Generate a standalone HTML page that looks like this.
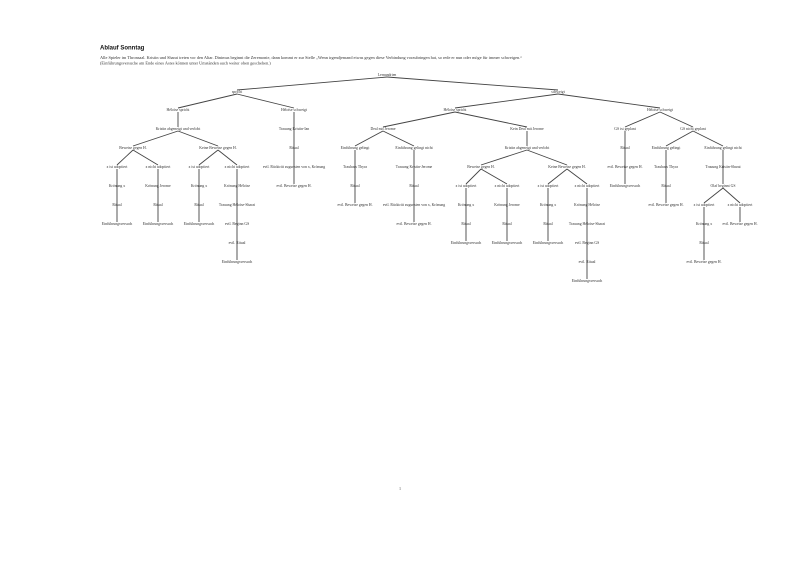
<!DOCTYPE html>
<html><head><meta charset="utf-8"><style>
html,body{margin:0;padding:0;background:#fff;}
svg{display:block;}
text{font-family:"Liberation Serif",serif;font-size:3.8px;fill:#333;text-anchor:middle;dominant-baseline:middle;}
line{stroke:#444;stroke-width:0.9;}
</style></head><body>
<svg width="800" height="565" viewBox="0 0 800 565" xmlns="http://www.w3.org/2000/svg">
<text x="100" y="48" style="font-family:'Liberation Sans',sans-serif;font-weight:bold;font-size:6px;text-anchor:start;fill:#111">Ablauf Sonntag</text>
<text x="100" y="58" style="text-anchor:start;font-size:4.3px">Alle Spieler im Thronsaal. Kristin und Sharai treten vor den Altar. Dinimus beginnt die Zeremonie, dann kommt er zur Stelle „Wenn irgendjemand etwas gegen diese Verbindung vorzubringen hat, so rede er nun oder möge für immer schweigen.“</text>
<text x="100" y="63.5" style="text-anchor:start;font-size:4.3px">(Einführungsversuche am Ende eines Astes können unter Umständen auch weiter oben geschehen.)</text>
<g>
<line x1="387" y1="77" x2="237" y2="90"/><line x1="387" y1="77" x2="558" y2="90"/>
<line x1="237" y1="94" x2="178" y2="108"/><line x1="237" y1="94" x2="294" y2="108"/>
<line x1="178" y1="112" x2="178" y2="127"/>
<line x1="178" y1="131" x2="133" y2="146"/><line x1="178" y1="131" x2="218" y2="146"/>
<line x1="133" y1="150" x2="117" y2="165"/><line x1="133" y1="150" x2="158" y2="165"/>
<line x1="218" y1="150" x2="199" y2="165"/><line x1="218" y1="150" x2="237" y2="165"/>
<line x1="117" y1="169" x2="117" y2="222"/><line x1="158" y1="169" x2="158" y2="222"/>
<line x1="199" y1="169" x2="199" y2="222"/><line x1="237" y1="169" x2="237" y2="260"/>
<line x1="294" y1="112" x2="294" y2="184"/>
<line x1="558" y1="94" x2="455" y2="108"/><line x1="558" y1="94" x2="660" y2="108"/>
<line x1="455" y1="112" x2="383" y2="127"/><line x1="455" y1="112" x2="527" y2="127"/>
<line x1="383" y1="131" x2="355" y2="146"/><line x1="383" y1="131" x2="414" y2="146"/>
<line x1="355" y1="150" x2="355" y2="203"/><line x1="414" y1="150" x2="414" y2="222"/>
<line x1="527" y1="131" x2="527" y2="146"/>
<line x1="527" y1="150" x2="481" y2="165"/><line x1="527" y1="150" x2="567" y2="165"/>
<line x1="481" y1="169" x2="466" y2="184"/><line x1="481" y1="169" x2="507" y2="184"/>
<line x1="567" y1="169" x2="548" y2="184"/><line x1="567" y1="169" x2="587" y2="184"/>
<line x1="466" y1="188" x2="466" y2="241"/><line x1="507" y1="188" x2="507" y2="241"/>
<line x1="548" y1="188" x2="548" y2="241"/><line x1="587" y1="188" x2="587" y2="279"/>
<line x1="660" y1="112" x2="625" y2="127"/><line x1="660" y1="112" x2="693" y2="127"/>
<line x1="625" y1="131" x2="625" y2="184"/>
<line x1="693" y1="131" x2="666" y2="146"/><line x1="693" y1="131" x2="723" y2="146"/>
<line x1="666" y1="150" x2="666" y2="203"/><line x1="723" y1="150" x2="723" y2="184"/>
<line x1="723" y1="188" x2="704" y2="203"/><line x1="723" y1="188" x2="740" y2="203"/>
<line x1="704" y1="207" x2="704" y2="260"/><line x1="740" y1="207" x2="740" y2="222"/>
</g>
<g>
<text x="387" y="75">Lernandrien</text>
<text x="237" y="92">spricht</text><text x="558" y="92">schweigt</text>
<text x="178" y="110">Héloïse spricht</text><text x="294" y="110">Héloïse schweigt</text>
<text x="178" y="129">Kristin abgeneigt und verlobt</text>
<text x="133" y="148">Beweise gegen H.</text><text x="218" y="148">Keine Beweise gegen H.</text>
<text x="117" y="167">x ist adoptiert</text><text x="158" y="167">x nicht adoptiert</text><text x="199" y="167">x ist adoptiert</text><text x="237" y="167">x nicht adoptiert</text>
<text x="117" y="186">Krönung x</text><text x="158" y="186">Krönung Jerome</text><text x="199" y="186">Krönung x</text><text x="237" y="186">Krönung Héloïse</text>
<text x="117" y="205">Ritual</text><text x="158" y="205">Ritual</text><text x="199" y="205">Ritual</text><text x="237" y="205">Trauung Héloïse-Sharai</text>
<text x="117" y="224">Einführungsversuch</text><text x="158" y="224">Einführungsversuch</text><text x="199" y="224">Einführungsversuch</text><text x="237" y="224">evtl. Beginn GS</text>
<text x="237" y="243">evtl. Ritual</text><text x="237" y="262">Einführungsversuch</text>
<text x="294" y="129">Trauung Kristin-Ian</text><text x="294" y="148">Ritual</text>
<text x="294" y="167">evtl. Rücktritt zugunsten von x, Krönung</text><text x="294" y="186">evtl. Beweise gegen H.</text>
<text x="455" y="110">Héloïse spricht</text><text x="660" y="110">Héloïse schweigt</text>
<text x="383" y="129">Deal mit Jerome</text><text x="527" y="129">Kein Deal mit Jerome</text>
<text x="355" y="148">Einführung gelingt</text><text x="414" y="148">Einführung gelingt nicht</text>
<text x="355" y="167">Trauhaus Thyra</text><text x="355" y="186">Ritual</text><text x="355" y="205">evtl. Beweise gegen H.</text>
<text x="414" y="167">Trauung Kristin-Jerome</text><text x="414" y="186">Ritual</text>
<text x="414" y="205">evtl. Rücktritt zugunsten von x, Krönung</text><text x="414" y="224">evtl. Beweise gegen H.</text>
<text x="527" y="148">Kristin abgeneigt und verlobt</text>
<text x="481" y="167">Beweise gegen H.</text><text x="567" y="167">Keine Beweise gegen H.</text>
<text x="466" y="186">x ist adoptiert</text><text x="507" y="186">x nicht adoptiert</text><text x="548" y="186">x ist adoptiert</text><text x="587" y="186">x nicht adoptiert</text>
<text x="466" y="205">Krönung x</text><text x="507" y="205">Krönung Jerome</text><text x="548" y="205">Krönung x</text><text x="587" y="205">Krönung Héloïse</text>
<text x="466" y="224">Ritual</text><text x="507" y="224">Ritual</text><text x="548" y="224">Ritual</text><text x="587" y="224">Trauung Héloïse-Sharai</text>
<text x="466" y="243">Einführungsversuch</text><text x="507" y="243">Einführungsversuch</text><text x="548" y="243">Einführungsversuch</text><text x="587" y="243">evtl. Beginn GS</text>
<text x="587" y="262">evtl. Ritual</text><text x="587" y="281">Einführungsversuch</text>
<text x="625" y="129">GS ist geplant</text><text x="693" y="129">GS nicht geplant</text>
<text x="625" y="148">Ritual</text><text x="625" y="167">evtl. Beweise gegen H.</text><text x="625" y="186">Einführungsversuch</text>
<text x="666" y="148">Einführung gelingt</text><text x="723" y="148">Einführung gelingt nicht</text>
<text x="666" y="167">Trauhaus Thyra</text><text x="666" y="186">Ritual</text><text x="666" y="205">evtl. Beweise gegen H.</text>
<text x="723" y="167">Trauung Kristin-Sharai</text><text x="723" y="186">Olaf beginnt GS</text>
<text x="704" y="205">x ist adoptiert</text><text x="740" y="205">x nicht adoptiert</text>
<text x="704" y="224">Krönung x</text><text x="704" y="243">Ritual</text><text x="704" y="262">evtl. Beweise gegen H.</text>
<text x="740" y="224">evtl. Beweise gegen H.</text>
</g>
<text x="400" y="489" style="font-size:3.6px">1</text>
</svg>
</body></html>
